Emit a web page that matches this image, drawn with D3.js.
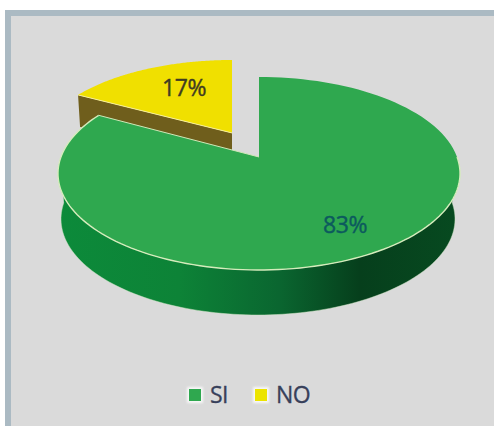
<!DOCTYPE html>
<html><head><meta charset="utf-8">
<script src="https://cdn.jsdelivr.net/npm/d3@7/dist/d3.min.js"></script>
<style>html,body{margin:0;padding:0;background:#fff}svg{display:block}text{font-family:"Open Sans",Lato,sans-serif}</style>
</head><body><svg id="c" width="494" height="426"></svg>
<script>
const categories = ["SI","NO"];
const seriesValues = [83,17];
const labels = ["83%","17%"];

const svg = d3.select("#c");
svg.append("rect").attr("x",5).attr("y",10).attr("width",489).attr("height",416).attr("fill","#abbac3");
svg.append("rect").attr("x",11).attr("y",16).attr("width",483).attr("height",410).attr("fill","#dadada");

const defs = svg.append("defs");
const grad = defs.append("linearGradient").attr("id","wall");
[[0,"#0c8a3a"],[0.3,"#0d8337"],[0.55,"#0a6630"],[0.75,"#063f1c"],[1,"#074a20"]].forEach(([o,c])=>
  grad.append("stop").attr("offset",o).attr("stop-color",c));
const glow = defs.append("filter").attr("id","glow").attr("x","-50%").attr("y","-50%").attr("width","200%").attr("height","200%");
glow.append("feGaussianBlur").attr("stdDeviation",1.2);

const pie = d3.pie().sort(null).value(d=>d).startAngle(0).endAngle(2*Math.PI);
const arcs = pie(seriesValues);
const Y0 = -0.171;
function projector(cx,cy,rx,ry){
  return a=>{
    const x=Math.sin(a), y=-Math.cos(a), d=1+Y0*y;
    return [cx+rx*x*Math.sqrt(1-Y0*Y0)/d, cy+ry*(y+Y0)/d];
  };
}
const line = d3.line();
function sector(p,a0,a1){
  const pts=d3.range(0,121).map(i=>p(a0+(a1-a0)*i/120));
  const apex=[p.cx,p.cy+p.ry*Y0];
  return line([apex,...pts])+"Z";
}
const greenP = Object.assign(projector(259,173.5,201,96.5),{cx:259,cy:173.5,ry:96.5});
const yellowP = Object.assign(projector(232,148,193,88),{cx:232,cy:148,ry:88});

const a0=arcs[1].startAngle;
const noStart=yellowP(a0), noApex=[232,148-88*0.171];
svg.append("path").attr("d",line([noStart,[noStart[0]+2,noStart[1]+32],[noApex[0],noApex[1]+32],noApex])+"Z").attr("fill","#6f5e1c");
svg.append("path").attr("d",sector(yellowP,arcs[1].startAngle,arcs[1].endAngle)).attr("fill","#f0e000");
svg.append("path").attr("d",line([noStart,noApex])).attr("fill","none").attr("stroke","#f7ef9a").attr("stroke-width",1);

const wallProj=projector(258,219,197,96);
const wallPts=d3.range(0,121).map(i=>wallProj(Math.PI/2+Math.PI*i/120));
const wallTop=d3.range(0,121).map(i=>greenP(Math.PI*1.5-Math.PI*i/120));
svg.append("path").attr("d",line([...wallPts,...wallTop])+"Z").attr("fill","url(#wall)");
svg.append("path").attr("d",line(wallPts)).attr("fill","none").attr("stroke","#cfe6c4").attr("stroke-width",0.8).attr("opacity",0.6);
svg.append("path").attr("d",sector(greenP,arcs[0].startAngle,arcs[0].endAngle)).attr("fill","#2fa84f");
const rimStart=Math.PI*0.5, rimEnd=arcs[0].endAngle;
svg.append("path").attr("d",line(d3.range(0,121).map(i=>greenP(rimStart+(rimEnd-rimStart)*i/120))))
  .attr("fill","none").attr("stroke","#d5ecbc").attr("stroke-width",1.4);
svg.append("path").attr("d",line([greenP(rimEnd),[259,173.5+96.5*Y0]])).attr("fill","none").attr("stroke","#cfe8b8").attr("stroke-width",1);

const labelColors=["#0c5a5e","#3f3c22"];
const labelPos=[[345,224],[184,87]];
svg.selectAll("text.l").data(labels).join("text").attr("class","l")
  .attr("x",(d,i)=>labelPos[i][0]).attr("y",(d,i)=>labelPos[i][1])
  .attr("text-anchor","middle").attr("dominant-baseline","central")
  .attr("font-size",23).attr("letter-spacing",-0.4).attr("stroke",(d,i)=>labelColors[i]).attr("stroke-width",0.4)
  .attr("fill",(d,i)=>labelColors[i]).text(d=>d);

const colors=["#2fa84f","#ece400"];
const legX=[189,255], legTextX=[210,276];
const lg=svg.selectAll("g.lg").data(categories).join("g").attr("class","lg");
lg.append("rect").attr("x",(d,i)=>legX[i]-2).attr("y",387).attr("width",16).attr("height",16).attr("fill","#fff").attr("opacity",0.8).attr("filter","url(#glow)");
lg.append("rect").attr("x",(d,i)=>legX[i]).attr("y",389).attr("width",12).attr("height",12).attr("fill",(d,i)=>colors[i]);
lg.append("text").attr("x",(d,i)=>legTextX[i]).attr("y",394).attr("dominant-baseline","central")
  .attr("font-size",23).attr("letter-spacing",-0.6).attr("stroke","#37405a").attr("stroke-width",0.3).attr("fill","#37405a").text(d=>d);
</script></body></html>
